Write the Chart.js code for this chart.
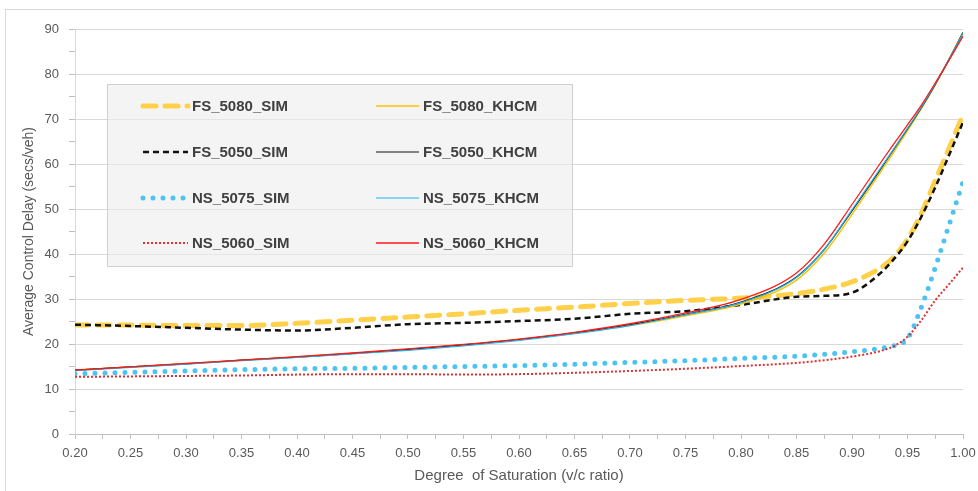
<!DOCTYPE html>
<html>
<head>
<meta charset="utf-8">
<title>Average Control Delay vs Degree of Saturation</title>
<script src="https://cdn.jsdelivr.net/npm/chart.js@4.4.1/dist/chart.umd.min.js"></script>
<style>
  html, body { margin: 0; padding: 0; background: #fff; }
  #wrap { position: relative; width: 978px; height: 491px; overflow: hidden; }
  #frame { position: absolute; left: 5px; top: 9px; width: 1000px; height: 520px; border: 1px solid #d9d9d9; box-sizing: border-box; }
  #chart { position: absolute; left: 0; top: 0; }
</style>
</head>
<body>
<div id="wrap">
  <div id="frame"></div>
  <canvas id="chart" width="978" height="491"></canvas>
</div>
<script>
// ---- data ----
const vcRatio = [0.20, 0.25, 0.30, 0.35, 0.40, 0.45, 0.50, 0.55, 0.60, 0.65, 0.70, 0.75, 0.80, 0.85,
                 0.875, 0.90, 0.925, 0.9375, 0.95, 0.9625, 0.975, 0.9875, 1.00];

const fs5080Sim  = [24.2, 24.2, 24.1, 24.1, 24.6, 25.3, 26.0, 26.7, 27.5, 28.2, 29.0, 29.7, 30.2, 31.2,
                    32.2, 33.8, 36.8, 39.3, 43.3, 49.0, 56.3, 63.5, 71.0];
const fs5080Khcm = [14.2, 14.9, 15.6, 16.4, 17.1, 17.9, 18.8, 19.8, 21.0, 22.4, 24.1, 26.3, 28.9, 34.2,
                    40.2, 48.8, 58.0, 62.6, 67.4, 72.3, 77.6, 83.3, 89.3];
const fs5050Sim  = [24.3, 24.0, 23.6, 23.2, 23.0, 23.6, 24.4, 24.7, 25.1, 25.6, 26.7, 27.3, 28.7, 30.5,
                    30.7, 31.4, 35.6, 38.8, 42.8, 48.3, 54.8, 62.0, 69.3];
const fs5050Khcm = [14.2, 14.9, 15.6, 16.4, 17.1, 17.9, 18.8, 19.8, 21.0, 22.5, 24.3, 26.6, 29.3, 34.9,
                    41.0, 49.6, 58.6, 63.2, 67.8, 72.5, 77.7, 83.3, 89.2];
const ns5075Sim  = [13.4, 13.7, 14.0, 14.3, 14.5, 14.6, 14.8, 15.0, 15.2, 15.5, 15.9, 16.3, 16.8, 17.3,
                    17.7, 18.3, 19.0, 19.6, 21.2, 28.2, 37.0, 46.5, 56.0];
const ns5075Khcm = [14.1, 14.8, 15.5, 16.3, 17.0, 17.8, 18.6, 19.6, 20.8, 22.3, 24.1, 26.5, 29.2, 34.8,
                    41.0, 49.8, 58.8, 63.3, 67.9, 72.6, 77.8, 83.3, 89.1];
const ns5060Sim  = [12.7, 12.8, 12.9, 13.0, 13.2, 13.3, 13.3, 13.2, 13.3, 13.6, 14.0, 14.5, 15.1, 15.8,
                    16.4, 17.2, 18.4, 19.5, 21.6, 25.3, 29.7, 33.3, 37.0];
const ns5060Khcm = [14.2, 14.9, 15.7, 16.4, 17.2, 18.0, 18.9, 19.9, 21.1, 22.6, 24.5, 26.9, 29.9, 35.8,
                    42.2, 51.0, 60.0, 64.4, 68.7, 73.1, 78.0, 83.1, 88.4];

const seriesNames = ['FS_5080_SIM', 'FS_5080_KHCM', 'FS_5050_SIM', 'FS_5050_KHCM',
                     'NS_5075_SIM', 'NS_5075_KHCM', 'NS_5060_SIM', 'NS_5060_KHCM'];
const seriesValues = [fs5080Sim, fs5080Khcm, fs5050Sim, fs5050Khcm,
                      ns5075Sim, ns5075Khcm, ns5060Sim, ns5060Khcm];

const xMin = 0.20, xMax = 1.00;
const yMin = 0, yMax = 90;

// ---- styles ----
const styles = [
  { color: '#ffd04a', width: 5,   dash: [13, 9], cap: 'round', order: 7 },
  { color: '#ffc000', width: 1.5, dash: [],      cap: 'butt',  order: 3 },
  { color: '#111111', width: 2.5, dash: [6, 4],  cap: 'butt',  order: 6 },
  { color: '#111111', width: 1.2, dash: [],      cap: 'butt',  order: 2 },
  { color: '#4cc3f0', width: 5,   dash: [0, 10], cap: 'round', order: 5 },
  { color: '#1fb0ef', width: 1.2, dash: [],      cap: 'butt',  order: 1 },
  { color: '#e03030', width: 2,   dash: [2, 2],  cap: 'butt',  order: 4 },
  { color: '#ff1a1a', width: 1.3, dash: [],      cap: 'butt',  order: 0 }
];

const fontFamily = "'Liberation Sans', Arial, sans-serif";
const tickFont = { family: fontFamily, size: 13 };
const grey = '#595959';

const datasets = seriesNames.map((name, i) => ({
  label: name,
  data: seriesValues[i].map((v, j) => ({ x: vcRatio[j], y: v })),
  borderColor: styles[i].color,
  backgroundColor: styles[i].color,
  borderWidth: styles[i].width,
  borderDash: styles[i].dash,
  borderCapStyle: styles[i].cap,
  cubicInterpolationMode: 'monotone',
  pointRadius: 0,
  fill: false,
  order: styles[i].order
}));

// legend box inside the plot, two columns (SIM left, KHCM right)
const boxLegend = {
  id: 'boxLegend',
  beforeDatasetsDraw(chart) {
    const ctx = chart.ctx;
    const box = { x: 107, y: 84, w: 465, h: 182 };
    ctx.save();
    ctx.fillStyle = 'rgba(236,236,236,0.6)';
    ctx.fillRect(box.x, box.y, box.w, box.h);
    ctx.strokeStyle = '#d0d0d0';
    ctx.lineWidth = 1;
    ctx.strokeRect(box.x + 0.5, box.y + 0.5, box.w, box.h);

    const rowY = [106, 152, 198, 243];
    const colX = [143, 376];
    const sampleW = [45, 43];
    ctx.font = 'bold 15px ' + fontFamily;
    ctx.textBaseline = 'middle';
    chart.data.datasets.forEach((ds, i) => {
      const col = i % 2, row = Math.floor(i / 2);
      const x0 = colX[col], y0 = rowY[row];
      ctx.beginPath();
      ctx.strokeStyle = ds.borderColor;
      ctx.lineWidth = ds.borderWidth;
      ctx.setLineDash(ds.borderDash);
      ctx.lineCap = ds.borderCapStyle;
      ctx.moveTo(x0, y0);
      ctx.lineTo(x0 + sampleW[col], y0);
      ctx.stroke();
      ctx.setLineDash([]);
      ctx.fillStyle = '#404040';
      ctx.fillText(ds.label, x0 + sampleW[col] + 4, y0 + 1);
    });
    ctx.restore();
  }
};

new Chart(document.getElementById('chart'), {
  type: 'line',
  data: { datasets: datasets },
  options: {
    responsive: false,
    animation: false,
    layout: { padding: { left: 0, right: 15, top: 29, bottom: 0 } },
    plugins: {
      legend: { display: false },
      tooltip: { enabled: false }
    },
    scales: {
      x: {
        type: 'linear',
        min: xMin,
        max: xMax,
        afterFit(scale) {
          scale.height = 57;
          scale.paddingLeft = 0;
          scale.paddingRight = 0;
        },
        afterBuildTicks(scale) {
          const t = [];
          for (let k = 0; k <= 32; k++) t.push({ value: xMin + k * 0.025 });
          scale.ticks = t;
        },
        ticks: {
          autoSkip: false,
          maxRotation: 0,
          color: grey,
          font: tickFont,
          padding: 7,
          callback: (v) => (Math.round(v * 1000) % 50 === 0 ? v.toFixed(2) : '')
        },
        grid: { drawOnChartArea: false, drawTicks: true, tickLength: 5, tickColor: '#bfbfbf' },
        border: { color: '#bfbfbf' },
        title: {
          display: true,
          text: 'Degree  of Saturation (v/c ratio)',
          color: grey,
          font: { family: fontFamily, size: 15 },
          padding: { top: 2, bottom: 6 }
        }
      },
      y: {
        min: yMin,
        max: yMax,
        afterFit(scale) { scale.width = 75; },
        ticks: {
          stepSize: 5,
          color: grey,
          font: tickFont,
          padding: 10,
          callback: (v) => (v % 10 === 0 ? String(v) : '')
        },
        grid: {
          color: (c) => (c.tick && c.tick.value % 10 === 0 && c.tick.value > 0 ? '#d9d9d9' : 'rgba(0,0,0,0)'),
          tickColor: '#bfbfbf',
          tickLength: 6
        },
        border: { color: '#d9d9d9' },
        title: {
          display: true,
          text: 'Average Control Delay (secs/veh)',
          color: grey,
          font: { family: fontFamily, size: 14 },
          padding: { top: 21, bottom: 0 }
        }
      }
    }
  },
  plugins: [boxLegend]
});
</script>
</body>
</html>
